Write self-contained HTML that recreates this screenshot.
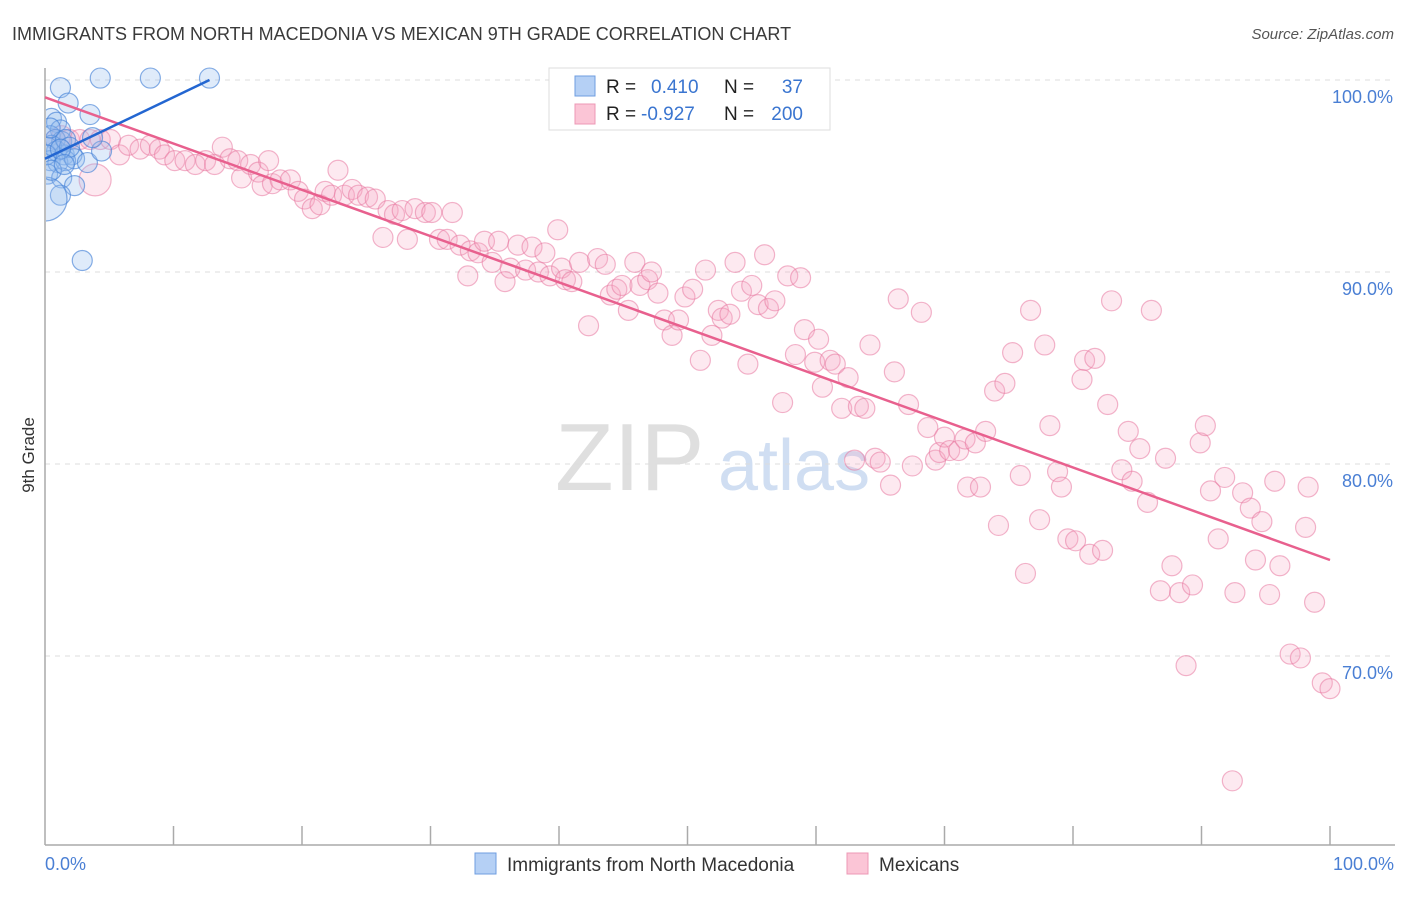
<!DOCTYPE html>
<html><head><meta charset="utf-8"><style>
body{margin:0;background:#fff;font-family:"Liberation Sans",sans-serif;}
svg text{font-family:"Liberation Sans",sans-serif;}
</style></head><body>
<svg id="chart" width="1406" height="892" viewBox="0 0 1406 892" xmlns="http://www.w3.org/2000/svg">
<text x="12" y="40" font-size="18" fill="#3a3a3a">IMMIGRANTS FROM NORTH MACEDONIA VS MEXICAN 9TH GRADE CORRELATION CHART</text>
<text x="1394" y="39" font-size="15" fill="#555" text-anchor="end" font-style="italic">Source: ZipAtlas.com</text>
<g>
<text x="555" y="490" font-size="96" fill="#d8d8d8" font-family="Liberation Serif" opacity="0.8">ZIP</text>
<text x="718" y="490" font-size="72" fill="#c5d7f0" opacity="0.8">atlas</text>
</g>
<g id="grid"></g>
<g id="axes"></g>
<svg id="pts" x="46" y="40" width="1360" height="805" viewBox="46 40 1360 805" overflow="hidden"></svg>
<g id="lines"></g>
<text transform="translate(34,455) rotate(-90)" font-size="17" fill="#333" text-anchor="middle">9th Grade</text>
<text x="45" y="870" font-size="18" fill="#4a7fd4">0.0%</text>
<text x="1394" y="870" font-size="18" fill="#4a7fd4" text-anchor="end">100.0%</text>
<g>
<rect x="549" y="68" width="281" height="62" fill="#fff" stroke="#ddd"/>
<rect x="575" y="76" width="20" height="20" fill="#b5d0f5" stroke="#6f9ee0"/>
<rect x="575" y="104" width="20" height="20" fill="#fbc5d6" stroke="#ec98b5"/>
<text x="606" y="93" font-size="19" fill="#222">R =</text>
<text x="651" y="93" font-size="19" fill="#3a75d0">0.410</text>
<text x="724" y="93" font-size="19" fill="#222">N =</text>
<text x="803" y="93" font-size="19" fill="#3a75d0" text-anchor="end">37</text>
<text x="606" y="120" font-size="19" fill="#222">R =</text>
<text x="641" y="120" font-size="19" fill="#3a75d0">-0.927</text>
<text x="724" y="120" font-size="19" fill="#222">N =</text>
<text x="803" y="120" font-size="19" fill="#3a75d0" text-anchor="end">200</text>
</g>
<g>
<rect x="475" y="853" width="21" height="21" fill="#b5d0f5" stroke="#6f9ee0"/>
<text x="507" y="871" font-size="19" fill="#333">Immigrants from North Macedonia</text>
<rect x="847" y="853" width="21" height="21" fill="#fbc5d6" stroke="#ec98b5"/>
<text x="879" y="871" font-size="19" fill="#333">Mexicans</text>
</g>
</svg>
<script>
const yTicks=[100,90,80,70];
const yTickLabels=["100.0%","90.0%","80.0%","70.0%"];
const pinkX=[0.8,1.3,1.9,2.7,3.5,4.3,5.1,5.8,6.5,7.4,8.2,8.9,9.3,10.1,10.9,11.7,12.5,13.2,13.8,14.4,15.0,15.3,16.0,16.6,16.9,17.4,17.7,18.3,19.1,19.7,20.2,20.8,21.4,21.8,22.3,22.8,23.3,23.9,24.4,25.1,25.7,26.3,26.7,27.2,27.8,28.2,28.8,29.6,30.1,30.7,31.3,31.7,32.3,32.9,33.1,33.7,34.2,34.8,35.3,35.8,36.2,36.8,37.4,37.9,38.4,38.9,39.3,39.9,40.2,40.5,41.0,41.6,42.3,43.0,43.6,44.0,44.5,44.9,45.4,45.9,46.3,46.9,47.2,47.7,48.2,48.8,49.3,49.8,50.4,51.0,51.4,51.9,52.4,52.7,53.3,53.7,54.2,54.7,55.0,55.5,56.0,56.3,56.8,57.4,57.8,58.4,58.8,59.1,59.9,60.2,60.5,61.1,61.5,62.0,62.5,63.0,63.3,63.8,64.2,64.6,65.0,65.8,66.1,66.4,67.2,67.5,68.2,68.7,69.3,69.6,70.0,70.4,71.1,71.6,71.8,72.4,72.8,73.2,73.9,74.2,74.7,75.3,75.9,76.3,76.7,77.4,77.8,78.2,78.8,79.1,79.6,80.2,80.7,80.9,81.3,81.7,82.3,82.7,83.0,83.8,84.3,84.6,85.2,85.8,86.1,86.8,87.2,87.7,88.3,88.8,89.3,89.9,90.3,90.7,91.3,91.8,92.6,93.2,93.8,94.2,94.7,95.3,95.7,96.1,96.9,97.7,98.1,98.3,98.8,99.4,100,92.4,3.9];
const pinkY=[96.9,97.1,96.9,96.9,96.9,96.9,96.9,96.1,96.6,96.4,96.6,96.4,96.1,95.8,95.8,95.6,95.8,95.6,96.5,95.9,95.8,94.9,95.6,95.2,94.5,95.8,94.6,94.8,94.8,94.2,93.8,93.3,93.5,94.2,94.0,95.3,94.0,94.3,94.0,93.9,93.8,91.8,93.2,93.0,93.2,91.7,93.3,93.1,93.1,91.7,91.7,93.1,91.4,89.8,91.1,91.0,91.6,90.5,91.6,89.5,90.2,91.4,90.1,91.3,90.0,91.0,89.8,92.2,90.2,89.6,89.5,90.5,87.2,90.7,90.4,88.8,89.1,89.3,88.0,90.5,89.3,89.6,90.0,88.9,87.5,86.7,87.5,88.7,89.1,85.4,90.1,86.7,88.0,87.6,87.8,90.5,89.0,85.2,89.3,88.3,90.9,88.1,88.5,83.2,89.8,85.7,89.7,87.0,85.3,86.5,84.0,85.4,85.2,82.9,84.5,80.2,83.0,82.9,86.2,80.3,80.1,78.9,84.8,88.6,83.1,79.9,87.9,81.9,80.2,80.6,81.4,80.7,80.7,81.3,78.8,81.1,78.8,81.7,83.8,76.8,84.2,85.8,79.4,74.3,88.0,77.1,86.2,82.0,79.6,78.8,76.1,76.0,84.4,85.4,75.3,85.5,75.5,83.1,88.5,79.7,81.7,79.1,80.8,78.0,88.0,73.4,80.3,74.7,73.3,69.5,73.7,81.1,82.0,78.6,76.1,79.3,73.3,78.5,77.7,75.0,77.0,73.2,79.1,74.7,70.1,69.9,76.7,78.8,72.8,68.6,68.3,63.5,94.8];
const pinkR=pinkX.map((x,i)=>i===pinkX.length-1?16:10);
const blueX=[1.2,4.3,8.2,12.8,1.8,3.5,0.5,0.9,1.2,0.4,0.8,1.3,0.2,0.9,1.5,2.1,0.4,1.0,1.6,2.3,3.3,4.4,0.2,1.3,2.3,1.2,0,2.9,0.5,0.1,1.6,3.7,0.5,1.9,1.2,0.4,1.5];
const blueY=[99.6,100.1,100.1,100.1,98.8,98.2,98.0,97.8,97.4,97.1,96.9,96.8,96.5,96.3,96.1,96.1,95.8,95.7,95.8,95.9,95.7,96.3,95.1,94.9,94.5,94.0,93.8,90.6,96.6,96.1,96.9,97.0,95.3,96.5,96.4,97.5,95.6];
const blueBigIndex=26;
const pinkTrend=[[0,99.1],[100,75.0]];
const blueTrend=[[0,95.9],[12.8,100]];

const NS="http://www.w3.org/2000/svg";
const X0=45,X1=1330,YTOP=80,PXPER=19.2;
function sx(v){return X0+(X1-X0)*v/100;}
function sy(v){return YTOP+(100-v)*PXPER;}
function mk(tag,attrs,parent){const e=document.createElementNS(NS,tag);for(const k in attrs)e.setAttribute(k,attrs[k]);parent.appendChild(e);return e;}
const grid=document.getElementById('grid');
yTicks.forEach((t,i)=>{
 const l=mk('line',{x1:X0,x2:1395,y1:sy(t),y2:sy(t),stroke:'#dcdcdc','stroke-dasharray':'5,5'},grid);
 
 
 const tx=mk('text',{x:1393,y:sy(t)+23,'font-size':18,fill:'#4a7fd4','text-anchor':'end'},grid);
 tx.textContent=yTickLabels[i];
 
 
});
const axes=document.getElementById('axes');
const ya=mk('line',{x1:X0,x2:X0,y1:68,y2:845,stroke:'#aaa','stroke-width':1.5},axes);


const xa=mk('line',{x1:X0,x2:1395,y1:845,y2:845,stroke:'#aaa','stroke-width':1.5},axes);


for(let i=1;i<=10;i++){
 const t=mk('line',{x1:sx(i*10),x2:sx(i*10),y1:826,y2:845,stroke:'#aaa','stroke-width':1.5},axes);
 
 
}
const pts=document.getElementById('pts');
pinkX.forEach((x,i)=>{
 const c=mk('circle',{cx:sx(x),cy:sy(pinkY[i]),r:pinkR[i],fill:'rgba(246,168,196,0.25)',stroke:'rgba(232,120,160,0.55)','stroke-width':1.2},pts);
 
 
});
blueX.forEach((x,i)=>{
 const c=mk('circle',{cx:sx(x),cy:sy(blueY[i]),r:i===blueBigIndex?22:10,fill:'rgba(150,190,240,0.3)',stroke:'rgba(70,130,215,0.65)','stroke-width':1.2},pts);
 
 
});
const lines=document.getElementById('lines');
const pl=mk('line',{x1:sx(pinkTrend[0][0]),y1:sy(pinkTrend[0][1]),x2:sx(pinkTrend[1][0]),y2:sy(pinkTrend[1][1]),stroke:'#e8608e','stroke-width':2.5},lines);


const bl=mk('line',{x1:sx(blueTrend[0][0]),y1:sy(blueTrend[0][1]),x2:sx(blueTrend[1][0]),y2:sy(blueTrend[1][1]),stroke:'#2366d1','stroke-width':2.5},lines);


</script>
</body></html>
